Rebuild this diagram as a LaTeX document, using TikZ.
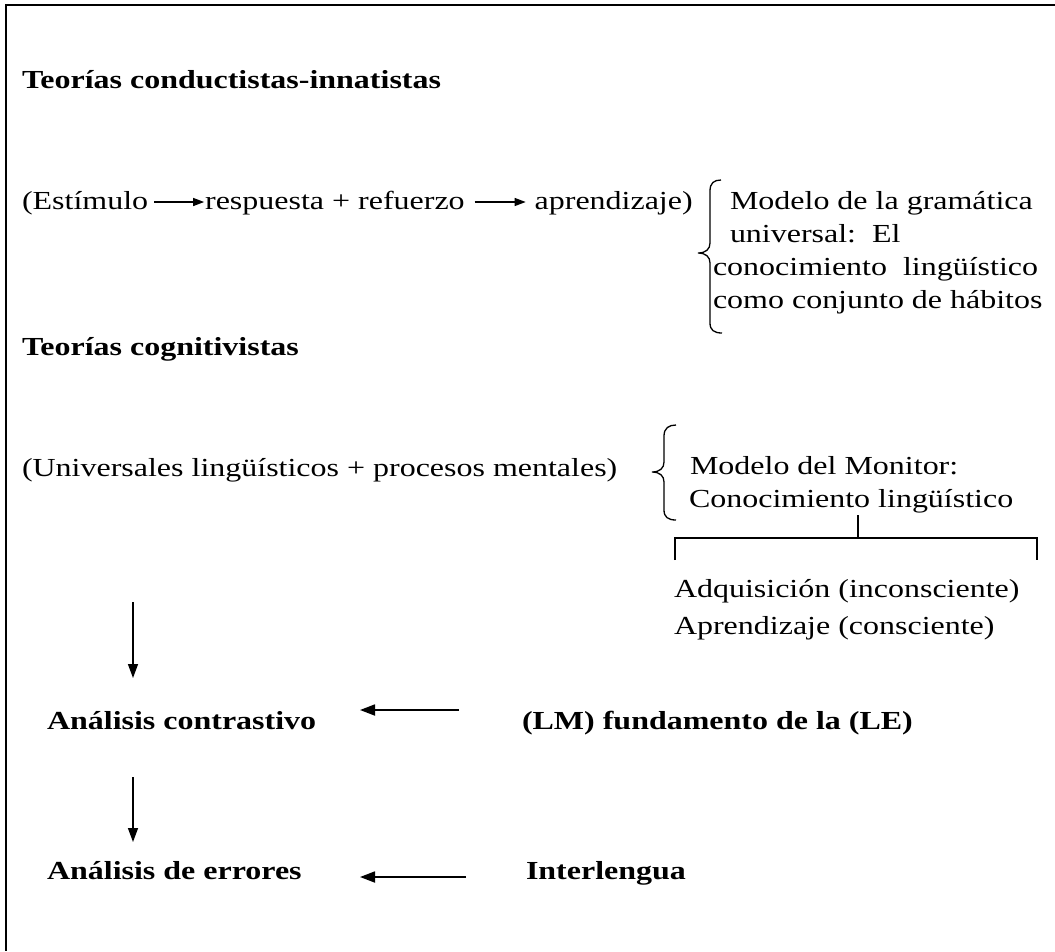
\documentclass[tikz,border=0pt]{standalone}
\usepackage{fontspec}
\setmainfont{Liberation Serif}[FakeStretch=1.23]
\usetikzlibrary{arrows.meta}
\begin{document}
\begin{tikzpicture}[x=1pt,y=-1pt,
  txt/.style={inner sep=0pt, outer sep=0pt, anchor=base west, font=\fontsize{26}{30}\selectfont},
  bold/.style={txt, font=\fontsize{26}{30}\selectfont\bfseries},
  ln/.style={line width=1.3pt},
  arr/.style={line width=1.8pt, -{Triangle[length=15pt,width=11pt]}},
  varr/.style={line width=1.4pt, -{Triangle[length=14pt,width=10pt]}},
  sarr/.style={line width=1.2pt, -{Triangle[length=11pt,width=8pt]}},
  frame/.style={line width=2pt}]
\useasboundingbox (0,0) rectangle (1055,951);
\fill[white] (0,0) rectangle (1055,951);
\draw[frame] (1055,5) -- (6,5) -- (6,951);

% heading 1
\node[bold] (h1) at (22,88) {Teorías conductistas-innatistas};

% row 1
\node[txt] (estim) at (22,209) {(Estímulo};
\node[txt] (resp) at ([xshift=57pt]estim.base east) {respuesta + refuerzo};
\node[txt] (apren) at ([xshift=70pt]resp.base east) {aprendizaje)};
\draw[sarr] ([xshift=6pt,yshift=7pt]estim.base east) -- ([xshift=-1pt,yshift=7pt]resp.base west);
\draw[sarr] ([xshift=10pt,yshift=7pt]resp.base east) -- ([xshift=-9pt,yshift=7pt]apren.base west);

% brace 1
\draw[ln] (721,180) .. controls (714,180) and (710,183) .. (710,191) -- (710,243)
  .. controls (710,249) and (706,253) .. (698,253)
  .. controls (706,253) and (710,257) .. (710,263) -- (710,323)
  .. controls (710,330) and (714,333) .. (722,333);
\node[txt] (m1) at (730,209) {Modelo de la gramática};
\node[txt] (m2) at (730,242) {universal:\ \ El};
\node[txt] (m3) at (713,275) {conocimiento\ \ lingüístico};
\node[txt] (m4) at (713,308) {como conjunto de hábitos};

% heading 2
\node[bold] (h2) at (22,355) {Teorías cognitivistas};

% row 2
\node[txt] (univ) at (22,476) {(Universales lingüísticos + procesos mentales)};
\draw[ln] (676,425) .. controls (669,425) and (664,428) .. (664,436) -- (664,462)
  .. controls (664,468) and (660,472) .. (652,472)
  .. controls (660,472) and (664,476) .. (664,482) -- (664,510)
  .. controls (664,517) and (668,520) .. (676,520);
\node[txt] (mon1) at (690,474) {Modelo del Monitor:};
\node[txt] (mon2) at (689,507) {Conocimiento lingüístico};

% bracket
\coordinate (stemtop) at (858,515);
\coordinate (stembot) at (858,538);
\coordinate (bl) at (675,560);
\coordinate (br) at (1037,560);
\draw[ln] (stemtop) -- (stembot);
\draw[ln] (bl) |- (stembot) -| (br);
\node[txt] (adq) at (674,597) {Adquisición (inconsciente)};
\node[txt] (apz) at (674,634) {Aprendizaje (consciente)};

% lower part
\coordinate (v1s) at (133,602);
\coordinate (v1e) at (133,678);
\draw[varr] (v1s) -- (v1e);
\node[bold] (contr) at (47,729) {Análisis contrastivo};
\node[bold] (lm) at (522,729) {(LM) fundamento de la (LE)};
\coordinate (h1s) at (459,710);
\coordinate (h1e) at (360,710);
\draw[arr] (h1s) -- (h1e);

\coordinate (v2s) at (133,777);
\coordinate (v2e) at (133,842);
\draw[varr] (v2s) -- (v2e);
\node[bold] (err) at (47,879) {Análisis de errores};
\node[bold] (inter) at (526,879) {Interlengua};
\coordinate (h2s) at (466,877);
\coordinate (h2e) at (360,877);
\draw[arr] (h2s) -- (h2e);
\end{tikzpicture}
\end{document}
